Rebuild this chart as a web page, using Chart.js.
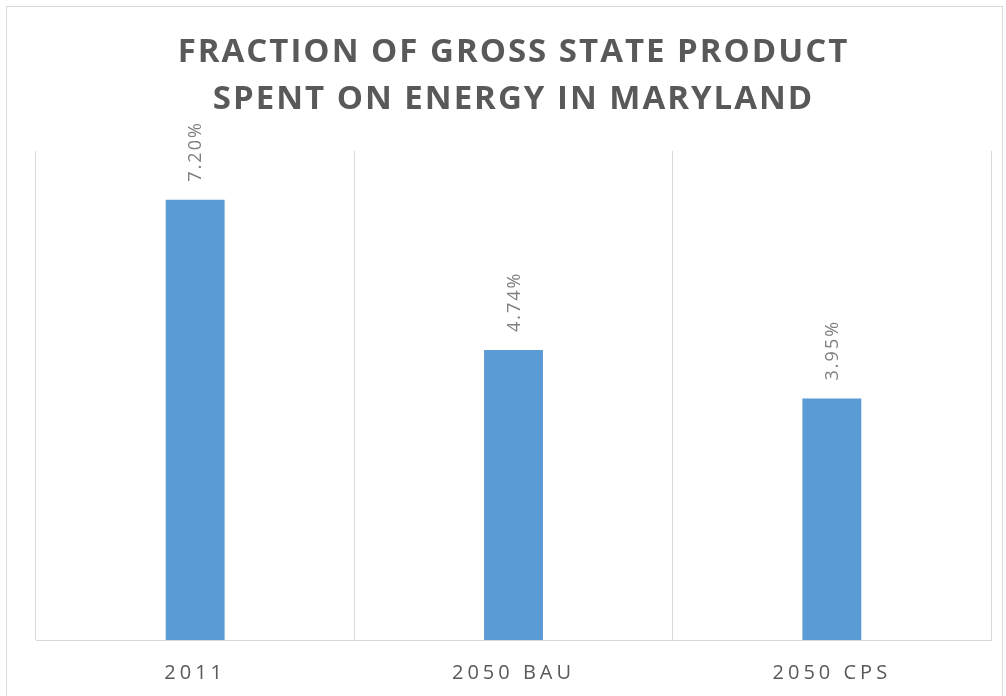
<!DOCTYPE html>
<html>
<head>
<meta charset="utf-8">
<script src="https://cdn.jsdelivr.net/npm/chart.js@4"></script>
<style>
  html, body { margin: 0; padding: 0; background: #fff; }
  #wrap { position: relative; width: 1006px; height: 696px; }
</style>
</head>
<body>
<div id="wrap"><canvas id="myBarChart" width="1006" height="696"></canvas></div>
<script>
var categories = ["2011", "2050 BAU", "2050 CPS"];
var shares = [7.20, 4.74, 3.95];
var titleLines = ["FRACTION OF GROSS STATE PRODUCT", "SPENT ON ENERGY IN MARYLAND"];

// letter spacing like the office chart
var spacing = {
  id: 'spacing',
  beforeUpdate: function(chart) { chart.ctx.letterSpacing = '2px'; },
  beforeLayout: function(chart) { chart.ctx.letterSpacing = '2px'; },
  beforeDraw: function(chart) {
    var c = chart.ctx;
    c.letterSpacing = '2px';
    var xs = chart.scales.x;
    if (!xs._spaced) {
      var orig = xs.drawLabels;
      xs.drawLabels = function(area) {
        c.letterSpacing = '4px';
        orig.call(this, area);
        c.letterSpacing = '2px';
      };
      xs._spaced = true;
    }
    c.save();
    c.strokeStyle = '#d9d9d9';
    c.lineWidth = 1;
    c.strokeRect(6.5, 6.5, 996, 700);
    c.restore();
  }
};

// rotated value labels above the bars
var barLabels = {
  id: 'barLabels',
  afterDatasetsDraw: function(chart) {
    var c = chart.ctx;
    var meta = chart.getDatasetMeta(0);
    c.save();
    c.font = '18px "Open Sans"';
    c.letterSpacing = '2px';
    c.fillStyle = '#7f7f7f';
    c.textAlign = 'left';
    c.textBaseline = 'middle';
    meta.data.forEach(function(bar, i) {
      c.save();
      c.translate(bar.x + 1, bar.y - 18);
      c.rotate(-Math.PI / 2);
      c.fillText(shares[i].toFixed(2) + '%', 0, 0);
      c.restore();
    });
    c.restore();
  }
};

var ctx = document.getElementById("myBarChart").getContext("2d");
new Chart(ctx, {
  type: "bar",
  data: {
    labels: categories,
    datasets: [{
      label: "Share of GSP",
      data: shares,
      backgroundColor: "#5b9bd5",
      borderWidth: 0,
      barPercentage: 0.185,
      categoryPercentage: 1
    }]
  },
  options: {
    responsive: false,
    animation: false,
    layout: {
      padding: { left: 36, right: 15, top: 0, bottom: -10 }
    },
    plugins: {
      legend: { display: false },
      tooltip: { enabled: false },
      title: {
        display: true,
        text: titleLines,
        color: '#595959',
        font: { size: 33, family: "Open Sans", weight: 'bold', lineHeight: 1.42 },
        padding: { top: 29, bottom: 28 }
      }
    },
    scales: {
      y: {
        display: false,
        min: 0,
        max: 8
      },
      x: {
        grid: {
          display: true,
          color: '#d9d9d9',
          drawTicks: false,
          offset: true
        },
        border: { display: true, color: '#d9d9d9' },
        ticks: {
          color: '#595959',
          padding: 21,
          font: { size: 20, family: "Open Sans" }
        }
      }
    }
  },
  plugins: [spacing, barLabels]
});
</script>
</body>
</html>
